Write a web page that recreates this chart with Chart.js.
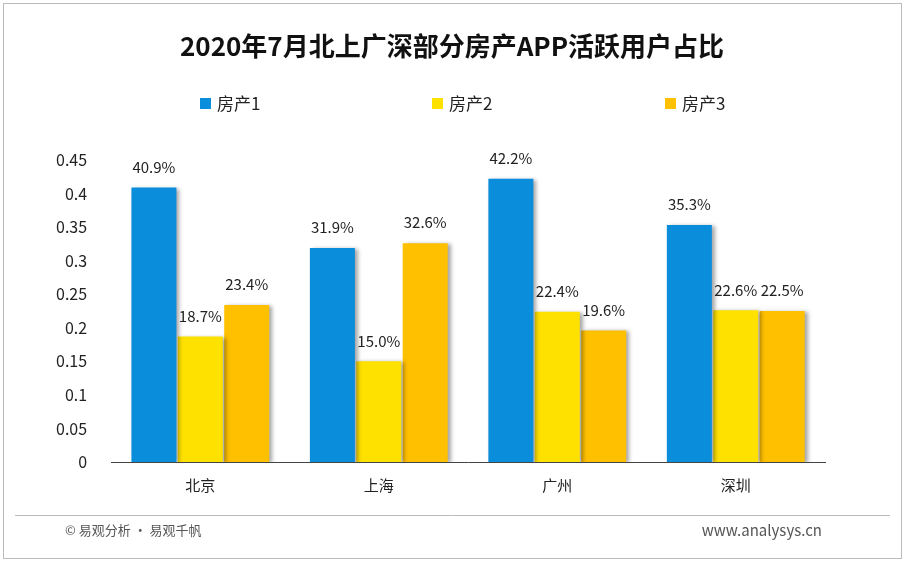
<!DOCTYPE html>
<html><head><meta charset="utf-8">
<script src="https://cdn.jsdelivr.net/npm/chart.js@4"></script>
<style>body{margin:0;background:#fff}#wrap{width:905px;height:562px}</style>
</head><body><div id="wrap"><canvas id="c" width="905" height="562"></canvas></div>
<script>
const cities = ['北京', '上海', '广州', '深圳'];
const seriesNames = ['房产1', '房产2', '房产3'];
const app1 = [0.409, 0.319, 0.422, 0.353];
const app2 = [0.187, 0.150, 0.224, 0.226];
const app3 = [0.234, 0.326, 0.196, 0.225];
const yTicks = [0, 0.05, 0.1, 0.15, 0.2, 0.25, 0.3, 0.35, 0.4, 0.45];
const colors = ['#0A8DDB', '#FFE100', '#FFC000'];
const FONT = '"Noto Sans CJK SC", "Noto Sans", sans-serif';
const titol = '2020年7月北上广深部分房产APP活跃用户占比';

// 柱子阴影
const pluginSombra = {
  id: 'sombra',
  beforeDatasetsDraw(chart) {
    const c = chart.ctx;
    c.save();
    c.shadowColor = 'rgba(0,0,0,0.35)';
    c.shadowOffsetX = 3;
    c.shadowOffsetY = 1;
    c.shadowBlur = 4;
  },
  afterDatasetsDraw(chart) { chart.ctx.restore(); }
};

// 标题、图例、数值标签、边框、页脚
const pluginExtres = {
  id: 'extres',
  afterDraw(chart) {
    const c = chart.ctx;
    c.save();
    c.fillStyle = '#111';
    c.textAlign = 'center';
    c.textBaseline = 'middle';
    c.font = 'bold 26px ' + FONT;
    c.fillText(titol, 452, 46);

    c.font = '17px ' + FONT;
    c.textAlign = 'left';
    const legX = [200, 432, 665];
    seriesNames.forEach((n, i) => {
      c.fillStyle = colors[i];
      c.fillRect(legX[i], 98, 11, 11);
      c.fillStyle = '#222';
      c.fillText(n, legX[i] + 17, 104);
    });

    c.fillStyle = '#222';
    c.font = '15px ' + FONT;
    c.textAlign = 'center';
    c.textBaseline = 'bottom';
    chart.data.datasets.forEach((ds, i) => {
      chart.getDatasetMeta(i).data.forEach((bar, j) => {
        c.fillText((ds.data[j] * 100).toFixed(1) + '%', bar.x, bar.y - 13);
      });
    });
    c.strokeStyle = '#bbb';
    c.lineWidth = 1;
    c.strokeRect(3.5, 3.5, 898, 555);
    c.beginPath();
    c.moveTo(15, 515.5); c.lineTo(890, 515.5); c.stroke();
    c.fillStyle = '#555';
    c.textBaseline = 'middle';
    c.textAlign = 'left';
    c.font = '13px ' + FONT;
    c.fillText('© 易观分析 · 易观千帆', 65, 530);
    c.textAlign = 'right';
    c.font = '15px ' + FONT;
    c.fillText('www.analysys.cn', 822, 530);
    c.restore();
  }
};

new Chart(document.getElementById('c'), {
  type: 'bar',
  data: {
    labels: cities,
    datasets: [app1, app2, app3].map((d, i) => ({
      label: seriesNames[i], data: d, backgroundColor: colors[i],
      borderWidth: 0, categoryPercentage: 0.78, barPercentage: 0.97
    }))
  },
  options: {
    animation: false, responsive: false,
    layout: { padding: { left: 40, right: 80, top: 160, bottom: 54 } },
    plugins: { legend: { display: false }, tooltip: { enabled: false } },
    scales: {
      x: {
        grid: { display: false, drawTicks: false },
        border: { color: '#444' },
        ticks: { color: '#222', font: { size: 15, family: FONT }, padding: 14 }
      },
      y: {
        min: 0, max: 0.45,
        afterBuildTicks: ax => { ax.ticks = yTicks.map(v => ({ value: v })); },
        grid: { display: false },
        border: { display: false },
        ticks: { color: '#222', font: { size: 16, family: FONT }, padding: 16,
          callback: v => String(+v.toFixed(2)) }
      }
    }
  },
  plugins: [pluginSombra, pluginExtres]
});
</script></body></html>
